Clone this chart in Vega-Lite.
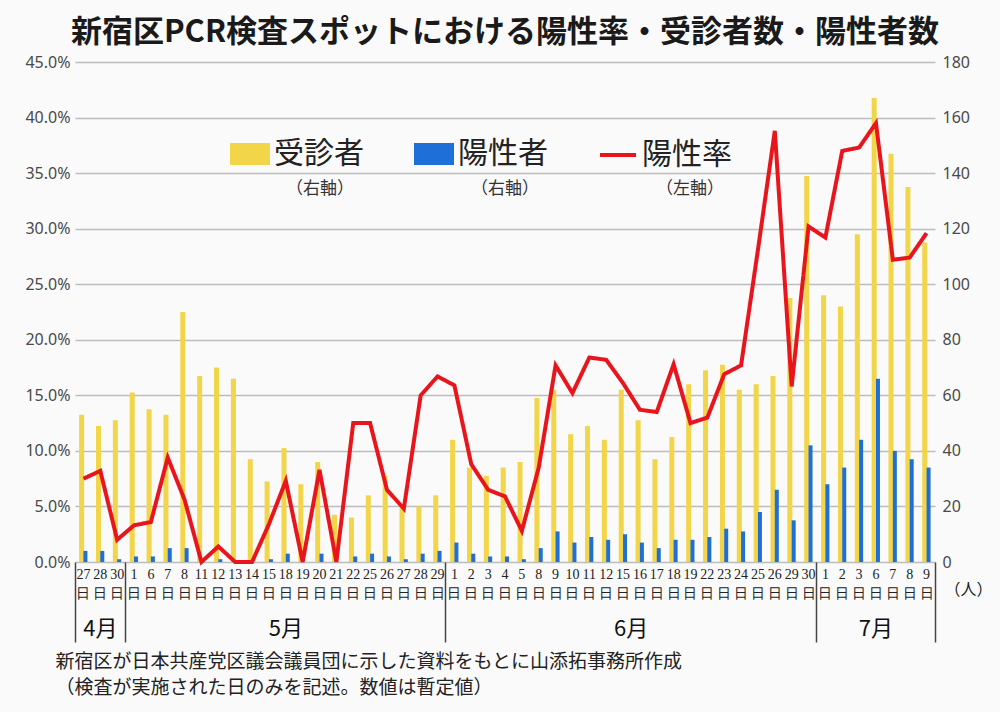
{
  "$schema": "https://vega.github.io/schema/vega-lite/v6.json",
  "width": 860,
  "height": 500,
  "autosize": {"type": "none"},
  "padding": {"left": 75, "top": 62, "right": 65, "bottom": 150},
  "background": "#fafafa",
  "title": {
    "text": "新宿区PCR検査スポットにおける陽性率・受診者数・陽性者数",
    "font": "Noto Sans CJK JP",
    "fontSize": 31,
    "fontWeight": "bold",
    "color": "#1a1a1a",
    "anchor": "middle",
    "offset": 5
  },
  "config": {
    "view": {"stroke": null},
    "axis": {"labelFont": "Noto Sans", "labelColor": "#4a4a4a", "labelFontSize": 16}
  },
  "data": {
    "values": [
      {"date": "4/27", "tested": 53, "positive": 4, "rate": 0.075},
      {"date": "4/28", "tested": 49, "positive": 4, "rate": 0.082},
      {"date": "4/30", "tested": 51, "positive": 1, "rate": 0.020},
      {"date": "5/1", "tested": 61, "positive": 2, "rate": 0.033},
      {"date": "5/6", "tested": 55, "positive": 2, "rate": 0.036},
      {"date": "5/7", "tested": 53, "positive": 5, "rate": 0.094},
      {"date": "5/8", "tested": 90, "positive": 5, "rate": 0.056},
      {"date": "5/11", "tested": 67, "positive": 0, "rate": 0},
      {"date": "5/12", "tested": 70, "positive": 1, "rate": 0.014},
      {"date": "5/13", "tested": 66, "positive": 0, "rate": 0},
      {"date": "5/14", "tested": 37, "positive": 0, "rate": 0},
      {"date": "5/15", "tested": 29, "positive": 1, "rate": 0.034},
      {"date": "5/18", "tested": 41, "positive": 3, "rate": 0.073},
      {"date": "5/19", "tested": 28, "positive": 0, "rate": 0},
      {"date": "5/20", "tested": 36, "positive": 3, "rate": 0.083},
      {"date": "5/21", "tested": 17, "positive": 0, "rate": 0},
      {"date": "5/22", "tested": 16, "positive": 2, "rate": 0.125},
      {"date": "5/25", "tested": 24, "positive": 3, "rate": 0.125},
      {"date": "5/26", "tested": 31, "positive": 2, "rate": 0.065},
      {"date": "5/27", "tested": 21, "positive": 1, "rate": 0.048},
      {"date": "5/28", "tested": 20, "positive": 3, "rate": 0.150},
      {"date": "5/29", "tested": 24, "positive": 4, "rate": 0.167},
      {"date": "6/1", "tested": 44, "positive": 7, "rate": 0.159},
      {"date": "6/2", "tested": 34, "positive": 3, "rate": 0.088},
      {"date": "6/3", "tested": 31, "positive": 2, "rate": 0.065},
      {"date": "6/4", "tested": 34, "positive": 2, "rate": 0.059},
      {"date": "6/5", "tested": 36, "positive": 1, "rate": 0.028},
      {"date": "6/8", "tested": 59, "positive": 5, "rate": 0.085},
      {"date": "6/9", "tested": 62, "positive": 11, "rate": 0.177},
      {"date": "6/10", "tested": 46, "positive": 7, "rate": 0.152},
      {"date": "6/11", "tested": 49, "positive": 9, "rate": 0.184},
      {"date": "6/12", "tested": 44, "positive": 8, "rate": 0.182},
      {"date": "6/15", "tested": 62, "positive": 10, "rate": 0.161},
      {"date": "6/16", "tested": 51, "positive": 7, "rate": 0.137},
      {"date": "6/17", "tested": 37, "positive": 5, "rate": 0.135},
      {"date": "6/18", "tested": 45, "positive": 8, "rate": 0.178},
      {"date": "6/19", "tested": 64, "positive": 8, "rate": 0.125},
      {"date": "6/22", "tested": 69, "positive": 9, "rate": 0.130},
      {"date": "6/23", "tested": 71, "positive": 12, "rate": 0.169},
      {"date": "6/24", "tested": 62, "positive": 11, "rate": 0.177},
      {"date": "6/25", "tested": 64, "positive": 18, "rate": 0.281},
      {"date": "6/26", "tested": 67, "positive": 26, "rate": 0.388},
      {"date": "6/29", "tested": 95, "positive": 15, "rate": 0.158},
      {"date": "6/30", "tested": 139, "positive": 42, "rate": 0.302},
      {"date": "7/1", "tested": 96, "positive": 28, "rate": 0.292},
      {"date": "7/2", "tested": 92, "positive": 34, "rate": 0.370},
      {"date": "7/3", "tested": 118, "positive": 44, "rate": 0.373},
      {"date": "7/6", "tested": 167, "positive": 66, "rate": 0.395},
      {"date": "7/7", "tested": 147, "positive": 40, "rate": 0.272},
      {"date": "7/8", "tested": 135, "positive": 37, "rate": 0.274},
      {"date": "7/9", "tested": 115, "positive": 34, "rate": 0.296}
    ]
  },
  "resolve": {"scale": {"y": "independent"}, "axis": {"x": "independent"}},
  "layer": [
    {
      "mark": {"type": "bar", "width": 5, "xOffset": -1.8},
      "encoding": {
        "x": {
          "field": "date", "type": "nominal", "sort": null,
          "scale": {"paddingInner": 0, "paddingOuter": 0},
          "axis": {
            "orient": "bottom",
            "title": ["新宿区が日本共産党区議会議員団に示した資料をもとに山添拓事務所作成", "（検査が実施された日のみを記述。数値は暫定値）"],
            "titleX": -20, "titleY": 90, "titleAlign": "left", "titleBaseline": "top",
            "titleFont": "Noto Sans CJK JP", "titleFontSize": 19, "titleFontWeight": "normal",
            "titleColor": "#222", "titleLineHeight": 26,
            "labelExpr": "[split(datum.label, '/')[1], '日']",
            "labelAngle": 0, "labelFont": "Liberation Serif", "labelFontSize": 14,
            "labelColor": "#222", "labelLineHeight": 19, "labelPadding": 5,
            "labelOverlap": false, "domain": false, "grid": false, "ticks": false
          }
        },
        "y": {
          "field": "tested", "type": "quantitative",
          "scale": {"domain": [0, 180]},
          "axis": {
            "orient": "right", "values": [0, 20, 40, 60, 80, 100, 120, 140, 160, 180],
            "grid": true, "gridColor": "#bdbdbd", "gridWidth": 1.5,
            "domain": false, "ticks": false, "labelPadding": 7,
            "title": "（人）", "titleAngle": 0, "titleX": 33, "titleY": 527,
            "titleAlign": "center", "titleBaseline": "middle",
            "titleFont": "Noto Sans CJK JP", "titleFontSize": 16, "titleFontWeight": "normal", "titleColor": "#222"
          }
        },
        "color": {
          "datum": "受診者",
          "scale": {"domain": ["受診者", "陽性者", "陽性率"], "range": ["#f2d548", "#1f6fd8", "#e8161c"]},
          "legend": {
            "orient": "none", "legendX": 155, "legendY": 72, "direction": "horizontal",
            "title": null, "labelFont": "Noto Sans CJK JP", "labelFontSize": 30, "labelColor": "#222",
            "labelOffset": 4, "columnPadding": 44, "gridAlign": "all", "symbolSize": 1296, "labelLimit": 300,
            "encode": {
              "symbols": {
                "update": {
                  "shape": {"signal": "datum.value === '陽性率' ? 'M-1,0H1' : 'M-1,-0.5H1V0.5H-1Z'"},
                  "fill": {"signal": "datum.value === '受診者' ? '#f2d548' : datum.value === '陽性者' ? '#1f6fd8' : 'transparent'"},
                  "stroke": {"signal": "datum.value === '陽性率' ? '#e8161c' : 'transparent'"},
                  "strokeWidth": {"value": 4},
                  "opacity": {"value": 1}
                }
              }
            }
          }
        },
        "strokeDash": {
          "datum": "受診者（右軸）",
          "scale": {"domain": ["受診者（右軸）", "陽性者（右軸）", "陽性率（左軸）"], "range": [[1, 0], [1, 0], [1, 0]]},
          "legend": {
            "orient": "none", "legendX": 194, "legendY": 118, "direction": "horizontal",
            "title": null, "labelExpr": "substring(datum.label, 3)",
            "labelFont": "Noto Sans CJK JP", "labelFontSize": 17, "labelColor": "#333",
            "labelOffset": 0, "symbolOpacity": 0, "symbolSize": 1, "columnPadding": 100, "gridAlign": "all"
          }
        }
      }
    },
    {
      "mark": {"type": "bar", "width": 4, "xOffset": 2},
      "encoding": {
        "x": {
          "field": "date", "type": "nominal", "sort": null,
          "axis": {
            "orient": "bottom", "values": ["4/27", "5/1", "6/1", "7/1"], "bandPosition": 0,
            "labels": false, "domain": false, "grid": false, "ticks": true,
            "tickSize": 80, "tickColor": "#444", "tickWidth": 1.5, "title": null
          }
        },
        "y": {"field": "positive", "type": "quantitative", "scale": {"domain": [0, 180]}, "axis": null},
        "color": {"datum": "陽性者"},
        "strokeDash": {"datum": "陽性者（右軸）"}
      }
    },
    {
      "mark": {"type": "line", "strokeWidth": 4},
      "encoding": {
        "x": {
          "field": "date", "type": "nominal", "sort": null,
          "axis": {
            "orient": "bottom", "values": ["4/28", "5/18", "6/15", "7/6", "7/9"], "bandPosition": 1,
            "labelExpr": "datum.value == '7/9' ? '' : split(datum.label, '/')[0] + '月'",
            "labelOffset": {"condition": {"test": "datum.value == '6/15'", "value": 8}, "value": 0},
            "labelFont": "Noto Sans CJK JP", "labelFontSize": 22, "labelColor": "#111",
            "labelPadding": -24, "labelAngle": 0, "labelOverlap": false,
            "ticks": true, "tickSize": 80, "tickColor": "#444", "tickWidth": 1.5,
            "tickOpacity": {"condition": {"test": "datum.value == '7/9'", "value": 1}, "value": 0},
            "domain": false, "grid": false, "title": null
          }
        },
        "y": {
          "field": "rate", "type": "quantitative",
          "scale": {"domain": [0, 0.45]},
          "axis": {
            "orient": "left", "values": [0, 0.05, 0.1, 0.15, 0.2, 0.25, 0.3, 0.35, 0.4, 0.45],
            "format": ".1%", "grid": false, "domain": false, "ticks": false,
            "labelPadding": 5, "title": null
          }
        },
        "color": {"datum": "陽性率"},
        "strokeDash": {"datum": "陽性率（左軸）"}
      }
    }
  ]
}
